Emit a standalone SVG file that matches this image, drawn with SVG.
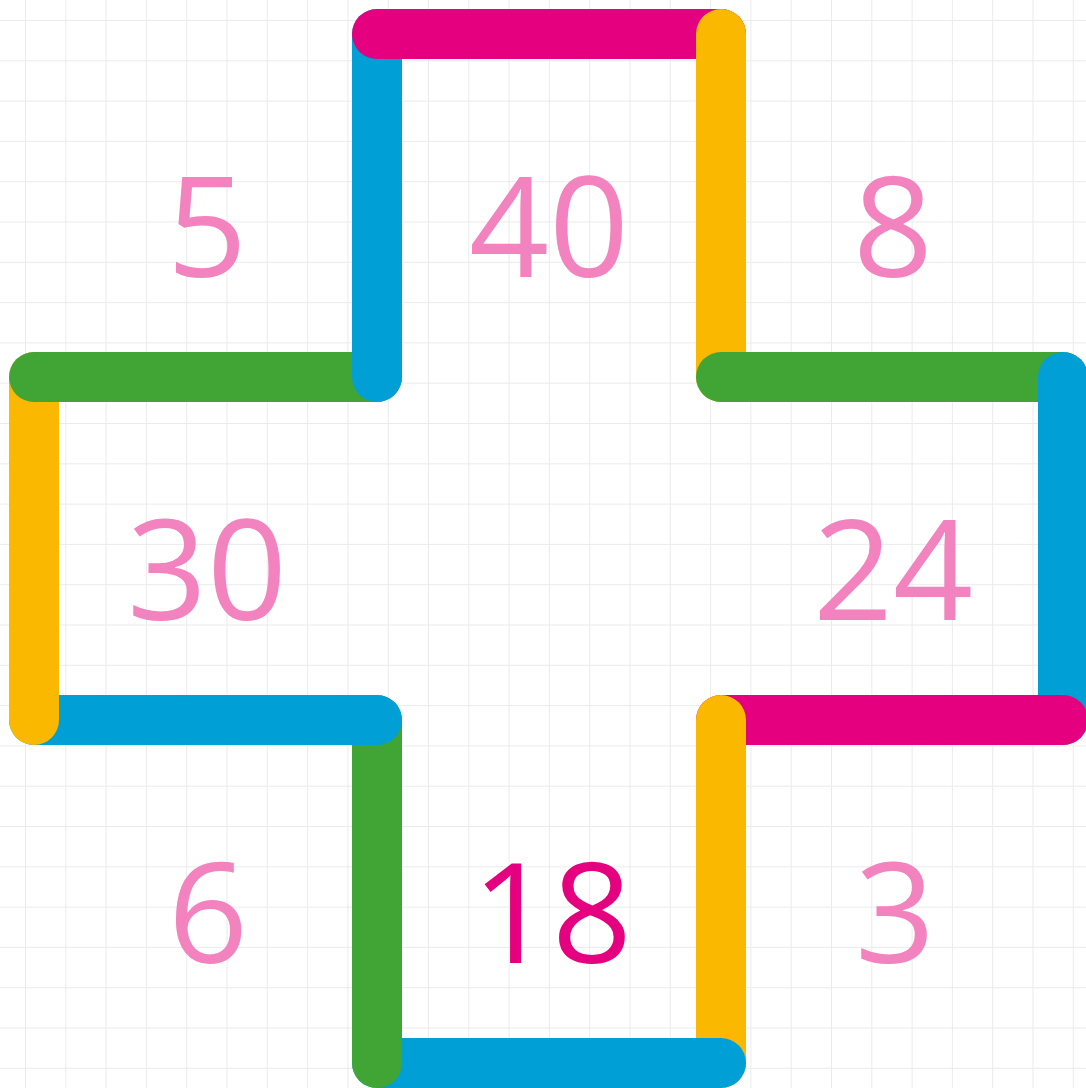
<svg xmlns="http://www.w3.org/2000/svg" width="1086" height="1088" viewBox="0 0 1086 1088">
<defs>
<pattern id="grid" x="25" y="20" width="40.3" height="40.3" patternUnits="userSpaceOnUse">
<path d="M0 0V40.3M0 0H40.3" fill="none" stroke="#ebebeb" stroke-width="2"/>
</pattern>
</defs>
<style>
.s{fill:none;stroke-width:50;stroke-linecap:round}
.m{stroke:#e4007e}.y{stroke:#fab900}.b{stroke:#009fd6}.g{stroke:#40a535}
.n{font-family:"Open Sans","Liberation Sans",sans-serif;font-weight:400;font-size:140px;fill:#f283bf;text-anchor:middle}
.n2{fill:#e4007e}
</style>
<rect width="1086" height="1088" fill="#ffffff"/>
<rect width="1086" height="1088" fill="url(#grid)"/>
<g id="connectors">
<line id="yellowTR" class="s y" x1="721" y1="34" x2="721" y2="377"/>
<line id="greenR" class="s g" x1="721" y1="377" x2="1063" y2="377"/>
<line id="blueR" class="s b" x1="1063" y1="377" x2="1063" y2="720"/>
<line id="magentaR" class="s m" x1="721" y1="720" x2="1063" y2="720"/>
<line id="yellowBR" class="s y" x1="721" y1="720" x2="721" y2="1063"/>
<line id="blueB" class="s b" x1="377" y1="1063" x2="721" y2="1063"/>
<line id="greenBL" class="s g" x1="377" y1="720" x2="377" y2="1063"/>
<line id="blueBL" class="s b" x1="34" y1="720" x2="377" y2="720"/>
<line id="yellowL" class="s y" x1="34" y1="377" x2="34" y2="720"/>
<line id="greenL" class="s g" x1="34" y1="377" x2="377" y2="377"/>
<line id="blueTL" class="s b" x1="377" y1="34" x2="377" y2="377"/>
<line id="magentaT" class="s m" x1="377" y1="34" x2="721" y2="34"/>
<line class="s y" x1="721" y1="34" x2="721" y2="70"/>
</g>
<g id="n5"><text class="n" x="207" y="277">5</text></g>
<g id="n40"><text class="n" x="549" y="277">40</text></g>
<g id="n8"><text class="n" x="893" y="277">8</text></g>
<g id="n30"><text class="n" x="207" y="620">30</text></g>
<g id="n24"><text class="n" x="893" y="620">24</text></g>
<g id="n6"><text class="n" x="208" y="963">6</text></g>
<g id="n18"><text class="n n2" x="552" y="963">18</text></g>
<g id="n3"><text class="n" x="895" y="963">3</text></g>
</svg>
